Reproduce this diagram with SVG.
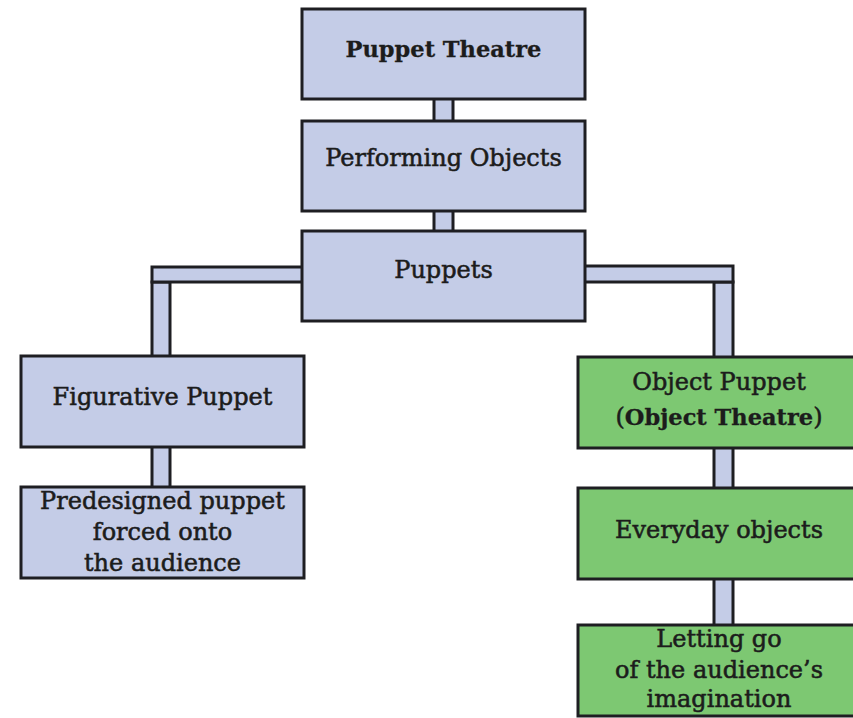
<svg xmlns="http://www.w3.org/2000/svg" width="853" height="718" viewBox="0 0 853 718">
<style>
.blue{fill:#c4cce7;stroke:#1e1e22;stroke-width:3}
.green{fill:#7dc872;stroke:#1e1e22;stroke-width:3}
.bar{fill:#c4cce7;stroke:#1e1e22;stroke-width:3}
text{font-family:"DejaVu Serif","Liberation Serif",serif;font-size:24px;fill:#1c1c1c;stroke:#1c1c1c;stroke-width:0.55;text-anchor:middle}
.b{font-weight:bold;font-size:22.5px;stroke-width:0.3}
</style>
<rect width="853" height="718" fill="#ffffff"/>
<g id="connectors">
<rect class="bar" x="434" y="98" width="19" height="24"/>
<rect class="bar" x="434" y="210" width="19" height="22"/>
<rect class="bar" x="152" y="282" width="18" height="75"/>
<rect class="bar" x="152" y="267" width="151" height="15"/>
<rect class="bar" x="714" y="282" width="19" height="76"/>
<rect class="bar" x="584" y="266" width="149" height="16"/>
<rect class="bar" x="152" y="446" width="18" height="42"/>
<rect class="bar" x="714" y="447" width="19" height="42"/>
<rect class="bar" x="714" y="578" width="19" height="48"/>
</g>
<g id="puppet-theatre">
<rect class="blue" x="302" y="9" width="283" height="90"/>
<text class="b" x="443.5" y="57">Puppet Theatre</text>
</g>
<g id="performing-objects">
<rect class="blue" x="302" y="121" width="283" height="90"/>
<text x="443.5" y="166">Performing Objects</text>
</g>
<g id="puppets">
<rect class="blue" x="302" y="231" width="283" height="90"/>
<text x="443.5" y="278">Puppets</text>
</g>
<g id="figurative-puppet">
<rect class="blue" x="21" y="356" width="283" height="91"/>
<text x="162.5" y="405">Figurative Puppet</text>
</g>
<g id="predesigned">
<rect class="blue" x="21" y="487" width="283" height="91"/>
<text x="162.5" y="509">Predesigned puppet</text>
<text x="162.5" y="540">forced onto</text>
<text x="162.5" y="571">the audience</text>
</g>
<g id="object-puppet">
<rect class="green" x="578" y="357" width="283" height="91"/>
<text x="719" y="390">Object Puppet</text>
<text x="719" y="425">(<tspan class="b">Object Theatre</tspan>)</text>
</g>
<g id="everyday-objects">
<rect class="green" x="578" y="488" width="283" height="91"/>
<text x="719" y="538">Everyday objects</text>
</g>
<g id="letting-go">
<rect class="green" x="578" y="625" width="283" height="91"/>
<text x="719" y="647">Letting go</text>
<text x="719" y="678">of the audience’s</text>
<text x="719" y="707">imagination</text>
</g>
</svg>
